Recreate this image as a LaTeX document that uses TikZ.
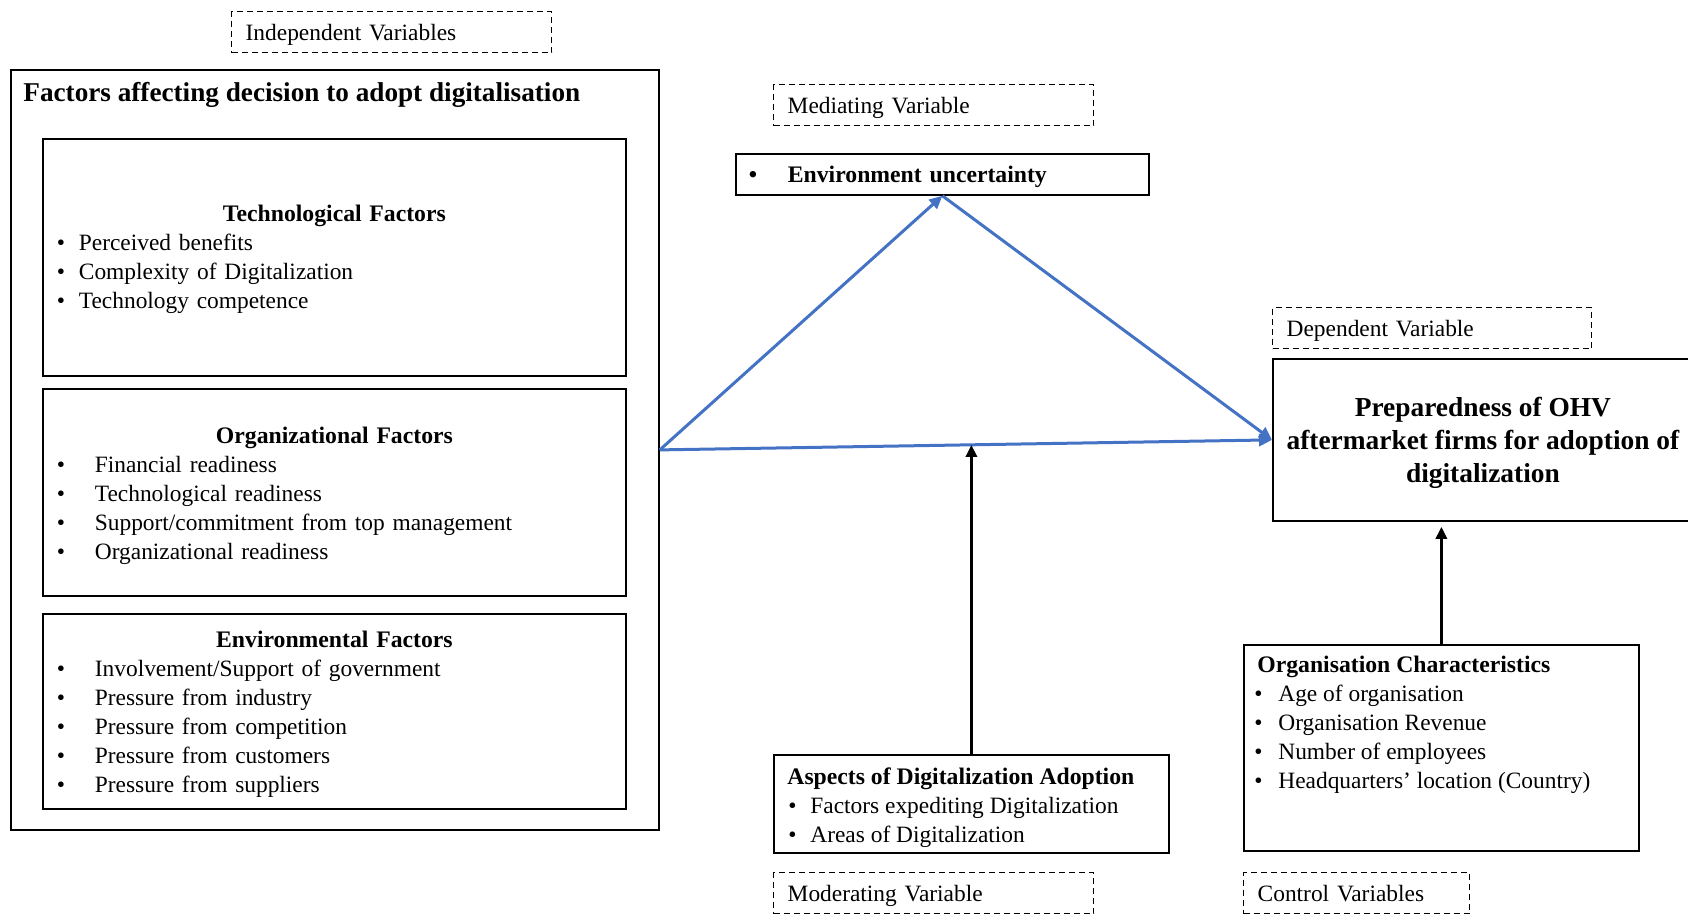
\documentclass[tikz,border=0pt]{standalone}
\usepackage{fontspec}
\setmainfont{Liberation Serif}
\usepackage{xcolor}
\usepackage{tikz}
\usetikzlibrary{calc, arrows.meta, positioning}

\definecolor{linkblue}{RGB}{68,114,196}

% bullet with a fixed gap before the text
\newcommand{\bul}[1][9.5pt]{\makebox[#1][l]{\kern-1.5pt\textbullet}}
% centred bold heading inside a list node
\newcommand{\boxhead}[1]{\makebox[\linewidth][c]{\bfseries\fontsize{11.85}{14.5}\selectfont #1}}

\begin{document}
\begin{tikzpicture}[x=0.5pt, y=-0.5pt,
    panel/.style={draw, line width=0.9pt, anchor=north west, inner sep=0pt},
    varbox/.style={draw, dashed, dash pattern=on 3pt off 2pt, line width=0.7pt,
        anchor=north west, minimum height=20.5pt, inner xsep=7pt, inner ysep=0pt,
        text height=8.4pt, text depth=0pt,
        text width=#1, align=left, font=\fontsize{11.7}{14.5}\selectfont},
    listtext/.style={inner sep=0pt, align=left, font=\fontsize{11.7}{14.5}\selectfont},
    bluelink/.style={draw=linkblue, line width=1.5pt, -{Triangle[length=6.5pt, width=6pt]}},
    blacklink/.style={draw, line width=1.6pt, -{Triangle[length=6pt, width=5.5pt]}}]

    \useasboundingbox (0,0) rectangle (1688,915);

    % =================================================================
    % LEFT: FACTORS AFFECTING THE DECISION (INDEPENDENT VARIABLES)
    % =================================================================
    \node[varbox=146pt] (indeplabel) at (231,11) {Independent Variables};

    \node[panel, minimum width=324pt, minimum height=380pt] (outer) at (10,69) {};
    \node[anchor=west, inner sep=0pt, font=\bfseries\fontsize{13.6}{16}\selectfont]
        (factitle) at (23,95) {Factors affecting decision to adopt digitalisation};

    % Technological factors
    \node[panel, minimum width=291.5pt, minimum height=118.5pt] (tech) at (42,138) {};
    \node[listtext, text width=274.5pt, yshift=-1pt] (techlist) at (tech.center) {%
        \boxhead{Technological Factors}\\
        \bul Perceived benefits\\
        \bul Complexity of Digitalization\\
        \bul Technology competence};

    % Organizational factors
    \node[panel, minimum width=291.5pt, minimum height=103.5pt] (org) at (42,388) {};
    \node[listtext, text width=274.5pt, yshift=-1.6pt] (orglist) at (org.center) {%
        \boxhead{Organizational Factors}\\
        \bul[17.5pt]Financial readiness\\
        \bul[17.5pt]Technological readiness\\
        \bul[17.5pt]Support/commitment from top management\\
        \bul[17.5pt]Organizational readiness};

    % Environmental factors
    \node[panel, minimum width=291.5pt, minimum height=97.5pt] (env) at (42,613) {};
    \node[listtext, text width=274.5pt, yshift=-1.6pt] (envlist) at (env.center) {%
        \boxhead{Environmental Factors}\\
        \bul[17.5pt]Involvement/Support of government\\
        \bul[17.5pt]Pressure from industry\\
        \bul[17.5pt]Pressure from competition\\
        \bul[17.5pt]Pressure from customers\\
        \bul[17.5pt]Pressure from suppliers};

    % =================================================================
    % MIDDLE: MEDIATING AND MODERATING VARIABLES
    % =================================================================
    \node[varbox=146pt] (medilabel) at (773,84) {Mediating Variable};
    \node[panel, minimum width=206.5pt, minimum height=20.5pt, inner xsep=8pt,
        text width=190.5pt, text height=8.4pt, text depth=0pt, align=left,
        font=\bfseries\fontsize{11.85}{14.5}\selectfont]
        (envu) at (735,153) {\bul[18pt]Environment uncertainty};

    \node[panel, minimum width=197.5pt, minimum height=49pt] (aspects) at (773,754) {};
    \node[listtext, anchor=west, yshift=-2pt] (aspectslist) at ([xshift=7pt]aspects.west) {%
        {\bfseries\fontsize{11.85}{14.5}\selectfont Aspects of Digitalization Adoption}\\
        \hspace*{2pt}\bul Factors expediting Digitalization\\
        \hspace*{2pt}\bul Areas of Digitalization};
    \node[varbox=146pt] (moderlabel) at (773,872) {Moderating Variable};

    % =================================================================
    % RIGHT: DEPENDENT AND CONTROL VARIABLES
    % =================================================================
    \node[varbox=145.5pt] (deplabel) at (1272,307) {Dependent Variable};
    \node[panel, minimum width=210pt, minimum height=81pt] (prep) at (1272,358) {};
    \node[align=center, inner sep=0pt, yshift=-1.6pt,
        font=\bfseries\fontsize{13.7}{16.5}\selectfont] (preptext) at (prep.center)
        {Preparedness of OHV\\aftermarket firms for adoption of\\digitalization};

    \node[panel, minimum width=197.5pt, minimum height=103pt] (orgchar) at (1243,644) {};
    \node[listtext, anchor=north west] (orgcharlist)
        at ([shift={(7pt,-6pt)}]orgchar.north west) {%
        {\bfseries\fontsize{11.85}{14.5}\selectfont Organisation Characteristics}\\
        \bul[10.5pt]Age of organisation\\
        \bul[10.5pt]Organisation Revenue\\
        \bul[10.5pt]Number of employees\\
        \bul[10.5pt]Headquarters’ location (Country)};
    \node[varbox=99pt] (ctrllabel) at (1243,872) {Control Variables};

    % =================================================================
    % CONNECTORS
    % =================================================================
    \draw[bluelink] (outer.east) -- (envu.south);
    \draw[bluelink] (envu.south) -- (prep.west);
    \draw[bluelink] (outer.east) -- (prep.west);

    % moderating arrow ends on the direct link
    \coordinate (modpoint) at ($(outer.east)!(aspects.north)!(prep.west)$);
    \draw[blacklink] (aspects.north) -- (aspects.north |- modpoint);
    \draw[blacklink, shorten >=2.5pt] (orgchar.north) -- (orgchar.north |- prep.south);

\end{tikzpicture}
\end{document}
